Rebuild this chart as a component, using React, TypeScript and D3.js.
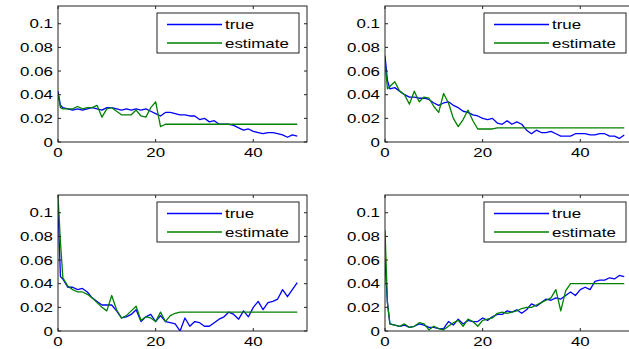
import { useEffect, useRef } from 'react'
import * as d3 from 'd3'

// Time steps (a half step near the start to keep the initial spike)
const steps: number[] = [0, 0.5, ...d3.range(1, 50)]

const yTicks = [0, 0.02, 0.04, 0.06, 0.08, 0.1]
const yTickLabels = ['0', '0.02', '0.04', '0.06', '0.08', '0.1']
const xTicks = [0, 20, 40]
const xTickLabels = ['0', '20', '40']
const seriesNames = ['true', 'estimate']
const seriesColors = ['#0000ff', '#008000']

// Panel 1 (top left)
const p1True = [
  0.043, 0.031, 0.029, 0.028, 0.027, 0.028, 0.027, 0.028, 0.029, 0.028,
  0.027, 0.029, 0.029, 0.028, 0.027, 0.028, 0.027, 0.028, 0.027, 0.028,
  0.026, 0.024, 0.022, 0.025, 0.025, 0.024, 0.023, 0.023, 0.022, 0.022,
  0.019, 0.02, 0.017, 0.018, 0.015, 0.015, 0.015, 0.014, 0.012, 0.01,
  0.011, 0.009, 0.008, 0.007, 0.008, 0.008, 0.007, 0.006, 0.004, 0.006,
  0.005,
]
const p1Estimate = [
  0.04, 0.029, 0.028, 0.028, 0.028, 0.03, 0.028, 0.029, 0.029, 0.031,
  0.021, 0.028, 0.029, 0.026, 0.023, 0.023, 0.023, 0.027, 0.022, 0.021,
  0.029, 0.034, 0.013, 0.015, 0.015, 0.015, 0.015, 0.015, 0.015, 0.015,
  0.015, 0.015, 0.015, 0.015, 0.015, 0.015, 0.015, 0.015, 0.015, 0.015,
  0.015, 0.015, 0.015, 0.015, 0.015, 0.015, 0.015, 0.015, 0.015, 0.015,
  0.015,
]

// Panel 2 (top right)
const p2True = [
  0.073, 0.052, 0.045, 0.046, 0.043, 0.04, 0.038, 0.038, 0.037, 0.037,
  0.036, 0.033, 0.031, 0.033, 0.034, 0.031, 0.029, 0.026, 0.025, 0.023,
  0.022, 0.02, 0.019, 0.02, 0.016, 0.015, 0.018, 0.015, 0.017, 0.015,
  0.01, 0.007, 0.01, 0.008, 0.008, 0.009, 0.007, 0.005, 0.005, 0.005,
  0.007, 0.007, 0.007, 0.006, 0.006, 0.007, 0.007, 0.005, 0.005, 0.003,
  0.006,
]
const p2Estimate = [
  0.068, 0.045, 0.047, 0.051, 0.043, 0.04, 0.032, 0.043, 0.034, 0.038,
  0.037, 0.03, 0.025, 0.041, 0.033, 0.02, 0.013, 0.019, 0.027, 0.018,
  0.011, 0.011, 0.011, 0.011, 0.012, 0.012, 0.012, 0.012, 0.012, 0.012,
  0.012, 0.012, 0.012, 0.012, 0.012, 0.012, 0.012, 0.012, 0.012, 0.012,
  0.012, 0.012, 0.012, 0.012, 0.012, 0.012, 0.012, 0.012, 0.012, 0.012,
  0.012,
]

// Panel 3 (bottom left)
const p3True = [
  0.105, 0.046, 0.044, 0.037, 0.037, 0.035, 0.036, 0.033, 0.028, 0.025,
  0.022, 0.022, 0.022, 0.017, 0.011, 0.012, 0.014, 0.018, 0.008, 0.012,
  0.014, 0.008, 0.013, 0.008, 0.007, 0.006, 0.0, 0.011, 0.004, 0.008,
  0.007, 0.004, 0.004, 0.007, 0.01, 0.012, 0.016, 0.014, 0.01, 0.017,
  0.012, 0.02, 0.025, 0.018, 0.024, 0.025, 0.027, 0.035, 0.029, 0.035,
  0.041,
]
const p3Estimate = [
  0.115, 0.075, 0.045, 0.038, 0.035, 0.033, 0.033, 0.031, 0.028, 0.024,
  0.02, 0.017, 0.03, 0.018, 0.011, 0.013, 0.017, 0.021, 0.009, 0.012,
  0.011, 0.008, 0.016, 0.008, 0.013, 0.015, 0.016, 0.016, 0.016, 0.016,
  0.016, 0.016, 0.016, 0.016, 0.016, 0.016, 0.016, 0.016, 0.016, 0.016,
  0.016, 0.016, 0.016, 0.016, 0.016, 0.016, 0.016, 0.016, 0.016, 0.016,
  0.016,
]

// Panel 4 (bottom right)
const p4True = [
  0.06, 0.024, 0.006, 0.005, 0.004, 0.005, 0.003, 0.004, 0.006, 0.005,
  0.003, 0.003, 0.002, 0.002, 0.008, 0.005, 0.01, 0.006, 0.009, 0.008,
  0.008, 0.011, 0.009, 0.012, 0.014, 0.014, 0.017, 0.016, 0.018, 0.015,
  0.018, 0.023, 0.021, 0.024, 0.027, 0.026, 0.028, 0.027, 0.03, 0.033,
  0.03, 0.035, 0.037, 0.035, 0.042, 0.043, 0.043, 0.045, 0.044, 0.047,
  0.046,
]
const p4Estimate = [
  0.085, 0.024, 0.006, 0.005, 0.004, 0.006, 0.003, 0.004, 0.007, 0.006,
  0.001, 0.004, 0.002, 0.001, 0.004, 0.007, 0.009, 0.004, 0.01, 0.008,
  0.004, 0.009, 0.01, 0.011, 0.015, 0.016, 0.015, 0.016, 0.017, 0.019,
  0.02, 0.02, 0.022, 0.024, 0.026, 0.028, 0.035, 0.017, 0.034, 0.04,
  0.04, 0.04, 0.04, 0.04, 0.04, 0.04, 0.04, 0.04, 0.04, 0.04,
  0.04,
]

const panelSeries = [
  [p1True, p1Estimate],
  [p2True, p2Estimate],
  [p3True, p3Estimate],
  [p4True, p4Estimate],
]

const WIDTH = 629
const HEIGHT = 349
const AX_W = 249
const AX_H = 136
const origins = [
  { left: 58, top: 6 },
  { left: 385, top: 6 },
  { left: 58, top: 195 },
  { left: 385, top: 195 },
]
const FONT = '"Liberation Sans", Arial, Helvetica, sans-serif'
const STRETCH = 1.3

const App = () => {
  const svgRef = useRef<SVGSVGElement | null>(null)

  useEffect(() => {
    const svg = d3.select(svgRef.current)
    svg.selectAll('*').remove()

    svg.append('rect').attr('width', WIDTH).attr('height', HEIGHT).attr('fill', '#fff')

    const xScale = d3.scaleLinear().domain([0, 51]).range([0, AX_W])
    const yScale = d3.scaleLinear().domain([0, 0.115]).range([AX_H, 0])

    // stretched text helper, the reference glyphs are wide
    const addText = (
      g: d3.Selection<SVGGElement, unknown, null, undefined>,
      x: number,
      y: number,
      label: string,
      anchor: string
    ) => {
      g.append('text')
        .attr('transform', `translate(${x},${y}) scale(${STRETCH},1)`)
        .attr('text-anchor', anchor)
        .style('font-family', FONT)
        .style('font-size', '13px')
        .style('fill', '#000')
        .text(label)
    }

    panelSeries.forEach((series, p) => {
      const { left, top } = origins[p]
      const g = svg.append('g').attr('transform', `translate(${left},${top})`)

      g.append('defs')
        .append('clipPath')
        .attr('id', `clip-${p}`)
        .append('rect')
        .attr('width', AX_W)
        .attr('height', AX_H)

      const line = d3
        .line<number>()
        .x((d, i) => xScale(steps[i]))
        .y((d) => yScale(d))

      // series lines, true first, estimate on top
      series.forEach((values, s) => {
        g.append('path')
          .attr('clip-path', `url(#clip-${p})`)
          .attr('d', line(values))
          .attr('fill', 'none')
          .attr('stroke', seriesColors[s])
          .attr('stroke-width', 1.3)
          .attr('stroke-linejoin', 'round')
      })

      // axes box
      g.append('rect')
        .attr('width', AX_W)
        .attr('height', AX_H)
        .attr('fill', 'none')
        .attr('stroke', '#222')
        .attr('stroke-width', 1)

      // ticks inside, on all sides
      const tickLen = 3
      yTicks.forEach((t, i) => {
        const y = yScale(t)
        g.append('line').attr('x1', 0).attr('x2', tickLen).attr('y1', y).attr('y2', y).attr('stroke', '#222')
        g.append('line').attr('x1', AX_W).attr('x2', AX_W - tickLen).attr('y1', y).attr('y2', y).attr('stroke', '#222')
        addText(g, -5, y + 4.5, yTickLabels[i], 'end')
      })
      xTicks.forEach((t, i) => {
        const x = xScale(t)
        g.append('line').attr('x1', x).attr('x2', x).attr('y1', AX_H).attr('y2', AX_H - tickLen).attr('stroke', '#222')
        g.append('line').attr('x1', x).attr('x2', x).attr('y1', 0).attr('y2', tickLen).attr('stroke', '#222')
        addText(g, x, AX_H + 15, xTickLabels[i], 'middle')
      })

      // legend
      const legW = 142
      const legH = 40
      const lx = AX_W - 8 - legW
      const ly = 7
      const legend = g.append('g').attr('transform', `translate(${lx},${ly})`)
      legend
        .append('rect')
        .attr('width', legW)
        .attr('height', legH)
        .attr('fill', '#fff')
        .attr('stroke', '#222')
        .attr('stroke-width', 1)
      seriesNames.forEach((name, s) => {
        const yy = 11.5 + s * 18.5
        legend
          .append('line')
          .attr('x1', 10)
          .attr('x2', 65)
          .attr('y1', yy)
          .attr('y2', yy)
          .attr('stroke', seriesColors[s])
          .attr('stroke-width', 1.3)
        addText(legend, 68, yy + 4.5, name, 'start')
      })
    })
  }, [])

  return (
    <svg
      ref={svgRef}
      width={WIDTH}
      height={HEIGHT}
      style={{ position: 'absolute', left: 0, top: 0 }}
    />
  )
}

export default App
